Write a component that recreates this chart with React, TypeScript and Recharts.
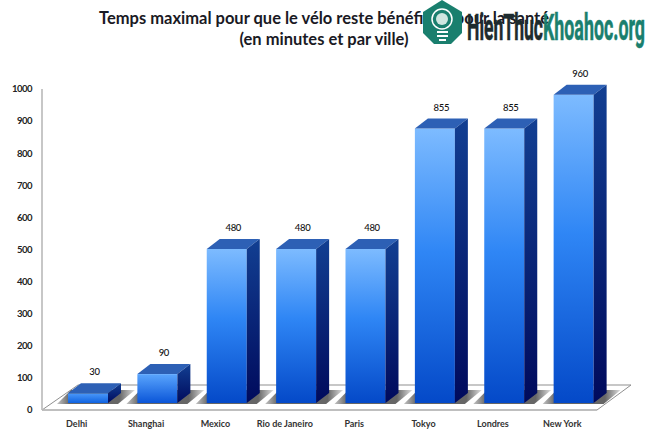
import React from 'react';
import { BarChart, Bar, XAxis, YAxis, LabelList, usePlotArea } from 'recharts';

const cities = ['Delhi', 'Shanghai', 'Mexico', 'Rio de Janeiro', 'Paris', 'Tokyo', 'Londres', 'New York'];
const minutes = [30, 90, 480, 480, 480, 855, 855, 960];
const yTicks = [0, 100, 200, 300, 400, 500, 600, 700, 800, 900, 1000];
const titleLines = ['Temps maximal pour que le vélo reste bénéfique pour la santé', '(en minutes et par ville)'];

const rows = cities.map((city, i) => ({ city, minutes: minutes[i] }));

// the bars stand in the middle of the floor, not on its front edge
const SHIFT_X = 11;
const SHIFT_Y = 7;
const DEPTH_X = 13;
const DEPTH_Y = 10;

const Floor = () => {
  const area = usePlotArea();
  if (!area) return null;
  const left = area.x;
  const right = area.x + area.width;
  const bottom = area.y + area.height;
  return (
    <g>
      <polygon
        points={`${left},${bottom} ${left + 36},${bottom - 25} ${right + 34},${bottom - 25} ${right},${bottom}`}
        fill="#fff"
        stroke="#8f8f8f"
        strokeWidth={1}
      />
      <line x1={left} y1={area.y} x2={left} y2={bottom} stroke="#b5b5b5" strokeWidth={1.5} />
      <line x1={left} y1={bottom} x2={right} y2={bottom} stroke="#bdbdbd" strokeWidth={1.5} />
    </g>
  );
};

const Box = (props: any) => {
  const { width, height } = props;
  const x = props.x + SHIFT_X;
  const y = props.y - SHIFT_Y;
  const base = y + height;
  const right = x + width;
  const fill = height > 120 ? 'url(#frontTall)' : height > 20 ? 'url(#frontMid)' : 'url(#frontLow)';
  return (
    <g>
      <polygon
        points={`${x - 11},${base + 1} ${x + 3},${base - 13} ${right + 27},${base - 13} ${right + 10},${base + 1}`}
        fill="url(#shadow)"
      />
      <rect x={x} y={y} width={width} height={height} fill={fill} />
      <polygon
        points={`${x},${y} ${x + DEPTH_X},${y - DEPTH_Y} ${right + DEPTH_X},${y - DEPTH_Y} ${right},${y}`}
        fill="#2d60b5"
      />
      <polygon
        points={`${right},${y} ${right + DEPTH_X},${y - DEPTH_Y} ${right + DEPTH_X},${base - DEPTH_Y} ${right},${base}`}
        fill="url(#side)"
      />
    </g>
  );
};

const ValueLabel = (props: any) => {
  const { x, y, width, value } = props;
  return (
    <text
      x={x + width / 2 + SHIFT_X + DEPTH_X / 2}
      y={y - SHIFT_Y - DEPTH_Y - 8}
      textAnchor="middle"
      fontSize={9.5}
      letterSpacing={-0.3}
      fontFamily="Lato, sans-serif"
      fontWeight={500}
      fill="#111"
    >
      {value}
    </text>
  );
};

export default function App() {
  return (
    <div style={{ position: 'absolute', left: 0, top: 0, width: 650, height: 433, background: '#fff', overflow: 'hidden' }}>
      <BarChart
        width={650}
        height={433}
        data={rows}
        barSize={40}
        margin={{ top: 89, right: 53, bottom: 0, left: 0 }}
      >
        <defs>
          <linearGradient id="frontTall" x1="0" y1="0" x2="0" y2="1">
            <stop offset="0" stopColor="#7dbbff" />
            <stop offset="0.45" stopColor="#2f86f5" />
            <stop offset="1" stopColor="#0449c8" />
          </linearGradient>
          <linearGradient id="frontMid" x1="0" y1="0" x2="0" y2="1">
            <stop offset="0" stopColor="#5aa5fd" />
            <stop offset="1" stopColor="#0a55d8" />
          </linearGradient>
          <linearGradient id="frontLow" x1="0" y1="0" x2="0" y2="1">
            <stop offset="0" stopColor="#4a98fa" />
            <stop offset="1" stopColor="#0f62e0" />
          </linearGradient>
          <linearGradient id="side" x1="0" y1="0" x2="0" y2="1">
            <stop offset="0" stopColor="#123f92" />
            <stop offset="1" stopColor="#000a5c" />
          </linearGradient>
          <linearGradient id="shadow" x1="0" y1="0" x2="1" y2="0">
            <stop offset="0" stopColor="#c4c4c4" />
            <stop offset="0.16" stopColor="#666" />
            <stop offset="0.8" stopColor="#666" />
            <stop offset="1" stopColor="#e0e0e0" />
          </linearGradient>
        </defs>
        <Floor />
        <XAxis
          dataKey="city"
          height={23}
          axisLine={false}
          tickLine={false}
          interval={0}
          tickMargin={5}
          tick={{ fontSize: 9, fontFamily: 'Lato, sans-serif', fontWeight: 700, fill: '#333' }}
        />
        <YAxis
          domain={[0, 1000]}
          ticks={yTicks}
          width={42}
          axisLine={false}
          tickLine={false}
          tickMargin={4}
          tick={{ fontSize: 9.5, letterSpacing: -0.5, fontFamily: 'Lato, sans-serif', fontWeight: 700, fill: '#222' }}
        />
        <Bar dataKey="minutes" shape={Box} isAnimationActive={false}>
          <LabelList dataKey="minutes" content={ValueLabel} />
        </Bar>
      </BarChart>

      <div
        style={{
          position: 'absolute',
          left: 0,
          top: 8,
          width: 648,
          textAlign: 'center',
          fontFamily: 'Lato, sans-serif',
          fontWeight: 700,
          fontSize: 16.5,
          lineHeight: '21px',
          color: '#1a1a24',
        }}
      >
        {titleLines.map((line) => (
          <div key={line} style={{ whiteSpace: 'nowrap' }}>{line}</div>
        ))}
      </div>

      <svg width={650} height={60} style={{ position: 'absolute', left: 0, top: 0 }}>
        <polygon points="442,0 462,12 462,33 451,44 434,44 423,33 423,12" fill="#1a7f6e" />
        <circle cx={442} cy={19} r={10} fill="none" stroke="#fff" strokeWidth={1.5} />
        <circle cx={442} cy={19} r={6} fill="#cfe6e0" />
        <rect x={437} y={31} width={11} height={2} fill="#fff" />
        <rect x={437} y={35} width={11} height={2} fill="#fff" />
        <rect x={439} y={39} width={7} height={2} fill="#fff" />
        <text x={467} y={40} fontFamily="Liberation Sans Narrow, Roboto, sans-serif" fontSize={37} textLength={76} lengthAdjust="spacingAndGlyphs" fontWeight={700} fill="#1d2b2e" stroke="#1d2b2e" strokeWidth={0.6}>HienThuc</text>
        <text x={543} y={40} fontFamily="Liberation Sans Narrow, Roboto, sans-serif" fontSize={37} textLength={102} lengthAdjust="spacingAndGlyphs" fontWeight={700} fill="#1a7f6e" stroke="#1a7f6e" strokeWidth={0.6}>Khoahoc.org</text>
      </svg>
    </div>
  );
}
